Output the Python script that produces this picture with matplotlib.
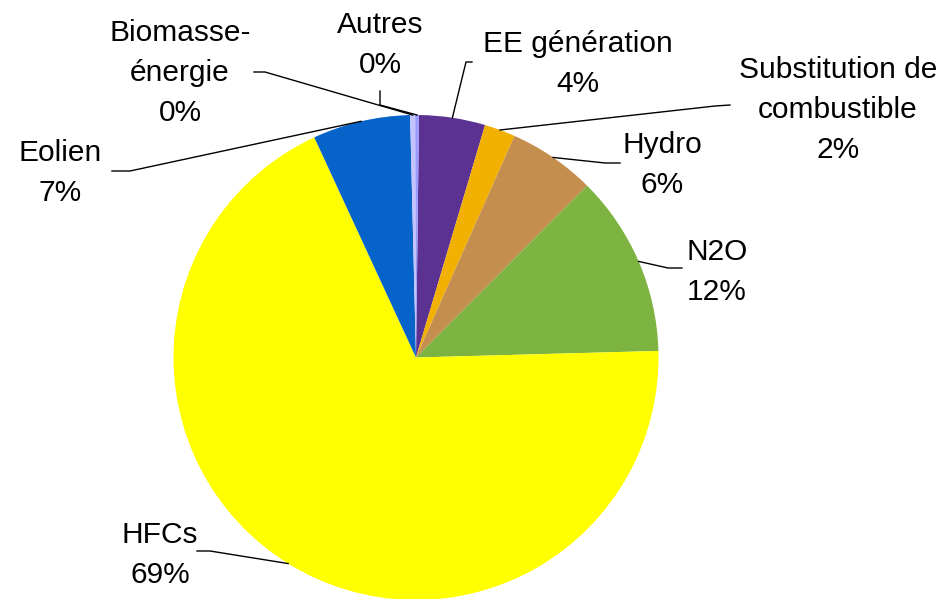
import numpy as np
import matplotlib
matplotlib.use("Agg")
import matplotlib.pyplot as plt

# slice order: clockwise from 12 o'clock (Excel style)
labels = ["EE génération", "Substitution de\ncombustible", "Hydro", "N2O",
          "HFCs", "Eolien", "Biomasse-\nénergie", "Autres"]
values = [4.4, 2.06, 5.8, 12.1, 68.5, 6.5, 0.33, 0.25]
pct_text = ["4%", "2%", "6%", "12%", "69%", "7%", "0%", "0%"]
colors = ["#5B3292", "#F2B000", "#C48F4E", "#7DB340",
          "#FFFF00", "#0563C9", "#C3C3FF", "#9C9CFF"]

W, H = 945, 599
CX, CY, R = 416, 357.5, 242.5


def px(x, y):
    # pixel coords -> data coords (pie radius = 1)
    return (x - CX) / R, (CY - y) / R


fig = plt.figure(figsize=(W / 100, H / 100), dpi=100)
ax = fig.add_axes([0, 0, 1, 1])
wedges, _ = ax.pie(values, colors=colors, startangle=89.3, counterclock=False,
                   wedgeprops=dict(linewidth=0))
ax.set_xlim(-CX / R, (W - CX) / R)
ax.set_ylim(-(H - CY) / R, CY / R)
ax.set_aspect("auto")
ax.axis("off")

# label block centres and leader-line elbows (pixels)
label_pos = [(578, 64), (838, 110), (662, 165), (717, 272),
             (160, 555), (60, 173), (180, 73), (380, 45)]
elbows = [[(472, 62), (466, 62)],
          [(730, 105), (715, 106)],
          [(620, 163), (605, 163)],
          [(682, 268), (668, 268)],
          [(197, 551), (210, 551)],
          [(112, 171), (130, 171)],
          [(254, 72), (265, 72)],
          [(380, 91), (380, 105)]]

for w, lab, pct, pos, elb in zip(wedges, labels, pct_text, label_pos, elbows):
    mid = np.deg2rad((w.theta1 + w.theta2) / 2)
    ex, ey = np.cos(mid), np.sin(mid)
    pts = [px(*p) for p in elb] + [(ex, ey)]
    ax.plot([p[0] for p in pts], [p[1] for p in pts], color="black", lw=1)
    tx, ty = px(*pos)
    ax.text(tx, ty, lab + "\n" + pct, ha="center", va="center",
            fontsize=21.5, family="Liberation Sans", linespacing=1.55)

fig.savefig("out.png", dpi=100)
